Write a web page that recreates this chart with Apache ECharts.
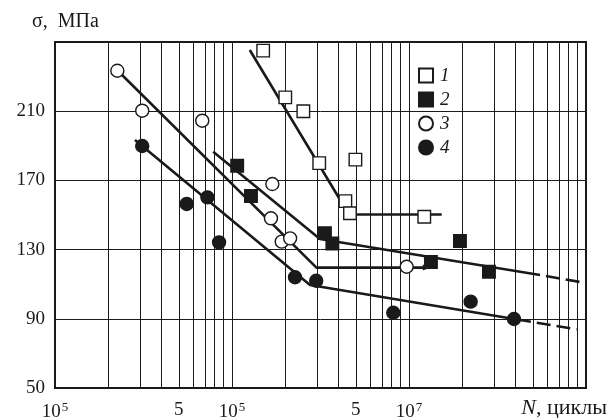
<!DOCTYPE html>
<html>
<head>
<meta charset="utf-8">
<script src="https://cdn.jsdelivr.net/npm/echarts@6/dist/echarts.min.js"></script>
<style>
html,body{margin:0;padding:0;background:#fff;}
#c{width:608px;height:418px;}
</style>
</head>
<body>
<div id="c"></div>
<script>
// ---- data (N in cycles, sigma in MPa) ----
const s1N = [1.50e6, 2.0e6, 2.53e6, 3.11e6, 4.98e6, 4.37e6, 4.64e6, 1.22e7];
const s1S = [245, 218, 210, 180, 182, 158, 151, 149];
const s2N = [1.07e6, 1.28e6, 3.35e6, 3.69e6, 1.33e7, 1.94e7, 2.83e7];
const s2S = [178.5, 161, 139.5, 133.5, 122.8, 135, 117.2];
const s3N = [2.25e5, 3.11e5, 6.79e5, 1.69e6, 1.66e6, 1.91e6, 2.13e6, 9.7e6];
const s3S = [233.4, 210.3, 204.5, 167.9, 148.1, 134.6, 136.5, 120.1];
const s4N = [3.11e5, 5.55e5, 7.26e5, 8.45e5, 2.27e6, 2.99e6, 8.15e6, 2.23e7, 3.92e7];
const s4S = [189.9, 156.4, 160.2, 134.2, 114, 112, 93.5, 99.9, 89.9];

// fitted curves
const line1N = [1.26e6, 4.58e6, 1.53e7];
const line1S = [245.4, 150.3, 150.3];
const line2N = [7.83e5, 3.14e6, 5.5e7];
const line2S = [186.6, 136.1, 115.3];
const line2dN = [5.5e7, 9.75e7];
const line2dS = [115.3, 110.9];
const line3N = [2.24e5, 3.0e6, 1.26e7];
const line3S = [233.8, 119.6, 119.6];
const line4N = [2.83e5, 2.76e6, 4.88e7];
const line4S = [193.3, 109.5, 88.3];
const line4dN = [4.88e7, 8.85e7];
const line4dS = [88.3, 83.9];

// axis ticks
const xTickN = [1e5, 5e5, 1e6, 5e6, 1e7];
const xTickLabels = ['10{s|5}', '5', '10{s|5}', '5', '10{s|7}'];
const yTicks = [50, 90, 130, 170, 210];
const seriesNames = ['1', '2', '3', '4'];

const INK = '#1a1a1a';
const FONT = '"Liberation Serif", "DejaVu Serif", serif';
const FS = 19;
const lg = v => Math.log10(v);
const pts = (N, S) => N.map((n, i) => [lg(n), S[i]]);

// vertical log grid lines
const vGrid = [];
for (let d = 5; d <= 7; d++) for (let k = 1; k <= 9; k++) vGrid.push(lg(k * Math.pow(10, d)));
vGrid.push(8);

const chart = echarts.init(document.getElementById('c'), null, {renderer: 'canvas'});

const lineSeries = (N, S, dashed, extra) => Object.assign({
  type: 'line', data: pts(N, S), showSymbol: false, symbol: 'none', z: 3, silent: true,
  lineStyle: {color: INK, width: 2.6, type: dashed ? [14, 6] : 'solid', dashOffset: dashed ? 14 : 0}
}, extra || {});

const markerStyle = {
  '1': {symbol: 'rect', color: '#fff'},
  '2': {symbol: 'rect', color: INK},
  '3': {symbol: 'circle', color: '#fff'},
  '4': {symbol: 'circle', color: INK}
};
const scatter = (name, N, S) => ({
  name, type: 'scatter', data: pts(N, S), z: 5,
  symbol: markerStyle[name].symbol, symbolSize: name === '1' || name === '2' ? 12.5 : 13,
  itemStyle: {color: markerStyle[name].color, borderColor: INK, borderWidth: 1.4, opacity: 1}
});

const option = {
  animation: false,
  backgroundColor: '#fff',
  grid: {left: 55, right: 22, top: 42, bottom: 30, containLabel: false, outerBoundsMode: 'none',
         show: true, borderColor: INK, borderWidth: 2, backgroundColor: 'transparent'},
  xAxis: {
    type: 'value', min: 5, max: 8, interval: 1,
    axisLine: {show: true, lineStyle: {color: INK, width: 2}},
    axisTick: {show: false},
    splitLine: {show: false},
    axisLabel: {
      customValues: xTickN.map(lg), margin: 13, color: INK, fontFamily: FONT, fontSize: FS,
      formatter: v => { const i = xTickN.findIndex(n => Math.abs(lg(n) - v) < 1e-6); return i >= 0 ? xTickLabels[i] : ''; },
      rich: {s: {fontSize: 13, fontFamily: FONT, color: INK, padding: [0, 0, 9, 1]}}
    }
  },
  yAxis: {
    type: 'value', min: 50, max: 250, interval: 40,
    axisLine: {show: true, lineStyle: {color: INK, width: 2}},
    axisTick: {show: false},
    splitLine: {show: true, lineStyle: {color: INK, width: 1}},
    axisLabel: {color: INK, fontFamily: FONT, fontSize: FS, margin: 10,
      formatter: v => yTicks.indexOf(v) >= 0 ? String(v) : ''}
  },
  legend: {
    orient: 'vertical', left: 413, top: 61, itemWidth: 14, itemHeight: 14, itemGap: 5,
    data: seriesNames,
    textStyle: {fontFamily: FONT, fontStyle: 'italic', fontSize: FS, color: INK, lineHeight: 18, padding: [0, 0, 0, 2]}
  },
  graphic: [
    {type: 'text', left: 32, top: 12, style: {text: 'σ,  МПа', fontFamily: FONT, fontSize: 20, fill: INK}},
    {type: 'text', right: 1, top: 397, style: {rich: {i: {fontStyle: 'italic', fontFamily: FONT, fontSize: 22, fill: INK}, n: {fontFamily: FONT, fontSize: 22, fill: INK}}, text: '{i|N}{n|, циклы}', fontFamily: FONT, fontSize: 22, fill: INK}}
  ],
  series: [
    {type: 'line', data: [], silent: true, z: 1,
     markLine: {silent: true, symbol: ['none', 'none'], label: {show: false}, animation: false,
       lineStyle: {color: INK, width: 1, type: 'solid'},
       data: vGrid.map(v => ({xAxis: v}))}},
    lineSeries(line1N, line1S, false),
    lineSeries(line2N, line2S, false),
    lineSeries(line2dN, line2dS, true),
    lineSeries(line3N, line3S, false, {
      markPoint: {silent: true, symbol: 'triangle', symbolSize: [6, 8], symbolRotate: -90,
        label: {show: false}, itemStyle: {color: INK},
        data: [{coord: [lg(line3N[2]), line3S[2]]}]}
    }),
    lineSeries(line4N, line4S, false),
    lineSeries(line4dN, line4dS, true),
    scatter('1', s1N, s1S),
    scatter('2', s2N, s2S),
    scatter('3', s3N, s3S),
    scatter('4', s4N, s4S)
  ]
};
chart.setOption(option);
</script>
</body>
</html>
